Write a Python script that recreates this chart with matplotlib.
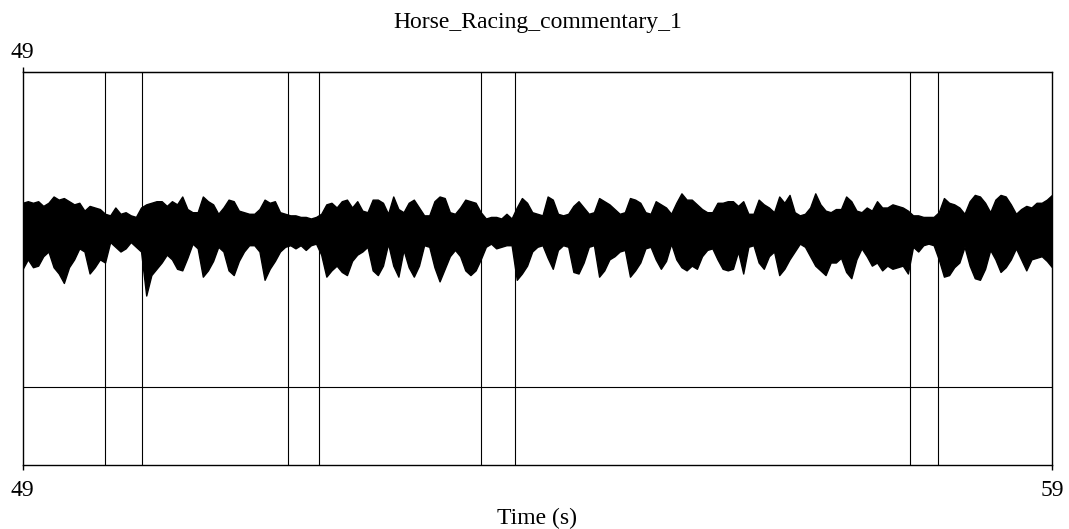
import numpy as np
import matplotlib
matplotlib.use("Agg")
import matplotlib.pyplot as plt

plt.rcParams['font.family'] = ['Liberation Serif', 'DejaVu Serif']

# sound excerpt shown, seconds
t_start, t_end = 49.0, 59.0
step = 0.05

# amplitude envelope of the waveform (max / min per 50 ms frame)
upper = [0.17, 0.18, 0.17, 0.18, 0.15, 0.17, 0.21, 0.19, 0.20, 0.18,
         0.16, 0.17, 0.12, 0.15, 0.14, 0.13, 0.10, 0.09, 0.14, 0.10,
         0.11, 0.09, 0.08, 0.14, 0.16, 0.17, 0.18, 0.18, 0.15, 0.18,
         0.16, 0.21, 0.13, 0.11, 0.11, 0.21, 0.18, 0.16, 0.10, 0.14,
         0.19, 0.18, 0.12, 0.11, 0.10, 0.10, 0.13, 0.19, 0.17, 0.18,
         0.11, 0.10, 0.09, 0.09, 0.08, 0.08, 0.07, 0.08, 0.10, 0.16,
         0.17, 0.14, 0.18, 0.19, 0.14, 0.18, 0.12, 0.11, 0.19, 0.19,
         0.17, 0.10, 0.21, 0.13, 0.11, 0.17, 0.19, 0.14, 0.09, 0.09,
         0.18, 0.21, 0.20, 0.11, 0.10, 0.14, 0.19, 0.18, 0.17, 0.11,
         0.07, 0.08, 0.08, 0.07, 0.10, 0.07, 0.14, 0.20, 0.17, 0.11,
         0.10, 0.09, 0.21, 0.19, 0.10, 0.09, 0.10, 0.15, 0.18, 0.14,
         0.10, 0.11, 0.20, 0.18, 0.16, 0.13, 0.10, 0.11, 0.20, 0.19,
         0.17, 0.11, 0.10, 0.18, 0.16, 0.14, 0.10, 0.17, 0.23, 0.19,
         0.19, 0.16, 0.13, 0.11, 0.11, 0.17, 0.17, 0.18, 0.18, 0.15,
         0.18, 0.10, 0.10, 0.19, 0.16, 0.14, 0.11, 0.21, 0.17, 0.22,
         0.11, 0.09, 0.10, 0.14, 0.23, 0.16, 0.12, 0.11, 0.13, 0.13,
         0.21, 0.18, 0.12, 0.11, 0.14, 0.12, 0.18, 0.14, 0.14, 0.16,
         0.15, 0.14, 0.12, 0.09, 0.09, 0.08, 0.08, 0.08, 0.11, 0.20,
         0.17, 0.16, 0.14, 0.10, 0.18, 0.22, 0.21, 0.17, 0.11, 0.19,
         0.22, 0.21, 0.16, 0.10, 0.13, 0.15, 0.14, 0.17, 0.17, 0.19, 0.22]

lower = [-0.25, -0.19, -0.24, -0.23, -0.17, -0.14, -0.24, -0.28, -0.34, -0.24,
         -0.19, -0.12, -0.14, -0.28, -0.24, -0.19, -0.21, -0.08, -0.11, -0.14,
         -0.12, -0.08, -0.11, -0.14, -0.42, -0.29, -0.25, -0.21, -0.16, -0.19,
         -0.25, -0.26, -0.18, -0.09, -0.12, -0.30, -0.26, -0.20, -0.11, -0.14,
         -0.26, -0.29, -0.20, -0.14, -0.10, -0.10, -0.14, -0.32, -0.25, -0.20,
         -0.14, -0.11, -0.10, -0.12, -0.10, -0.13, -0.10, -0.09, -0.16, -0.30,
         -0.26, -0.23, -0.27, -0.29, -0.20, -0.16, -0.14, -0.11, -0.26, -0.29,
         -0.23, -0.09, -0.23, -0.30, -0.13, -0.24, -0.30, -0.23, -0.10, -0.11,
         -0.24, -0.33, -0.25, -0.17, -0.13, -0.17, -0.26, -0.29, -0.26, -0.19,
         -0.11, -0.09, -0.12, -0.11, -0.10, -0.10, -0.32, -0.28, -0.23, -0.14,
         -0.11, -0.10, -0.18, -0.25, -0.13, -0.10, -0.11, -0.27, -0.28, -0.21,
         -0.11, -0.10, -0.30, -0.26, -0.19, -0.17, -0.14, -0.13, -0.30, -0.26,
         -0.21, -0.12, -0.11, -0.19, -0.25, -0.20, -0.09, -0.19, -0.24, -0.26,
         -0.23, -0.25, -0.17, -0.13, -0.12, -0.19, -0.25, -0.26, -0.25, -0.14,
         -0.28, -0.11, -0.10, -0.21, -0.25, -0.17, -0.14, -0.29, -0.25, -0.19,
         -0.14, -0.09, -0.11, -0.17, -0.23, -0.26, -0.29, -0.21, -0.21, -0.18,
         -0.27, -0.31, -0.19, -0.12, -0.17, -0.23, -0.21, -0.26, -0.23, -0.25,
         -0.24, -0.23, -0.28, -0.11, -0.14, -0.10, -0.09, -0.10, -0.19, -0.30,
         -0.29, -0.24, -0.21, -0.11, -0.23, -0.31, -0.32, -0.25, -0.13, -0.19,
         -0.27, -0.24, -0.19, -0.12, -0.19, -0.26, -0.19, -0.18, -0.17, -0.20, -0.24]

# interval boundaries of the annotation tier (s)
boundaries = [49.797, 50.156, 51.575, 51.879, 53.450, 53.783, 57.617, 57.892]

title = "Horse_Racing_commentary_1"

times = t_start + step * np.arange(len(upper))

fig = plt.figure(figsize=(10.69, 5.29), dpi=100)
W, H = 1069, 529
ax = fig.add_axes([22.7 / W, 1 - 465.3 / H, (1052 - 22.7) / W, (465.3 - 72.3) / H])

# waveform occupies [-1, 1], tier sits below in [-1.5, -1]
ax.fill_between(times, lower, upper, color='black', linewidth=1.0)
ax.axhline(-1.0, color='black', linewidth=0.8)
ax.vlines(boundaries, -1.5, 1.0, color='black', linewidth=0.8)

ax.set_xlim(t_start, t_end)
ax.set_ylim(-1.5, 1.0)
ax.set_yticks([])
for sp in ax.spines.values():
    sp.set_linewidth(1.0)

ax.set_xticks([t_start, t_end])
ax.set_xticklabels(["49", "59"])
ax.tick_params(axis='x', direction='out', length=3.5, width=1.0,
               labelsize=17, pad=7)

top = ax.secondary_xaxis('top')
top.set_xticks([t_start])
top.set_xticklabels(["49"])
top.tick_params(axis='x', direction='out', length=3.5, width=1.0,
                labelsize=17, pad=3)

fig.text(537.4 / W, 1 - 22.5 / H, title, ha='center', va='center', fontsize=17)
fig.text(537.4 / W, 1 - 518.5 / H, "Time (s)", ha='center', va='center', fontsize=17)

fig.savefig("out.png", dpi=100)
